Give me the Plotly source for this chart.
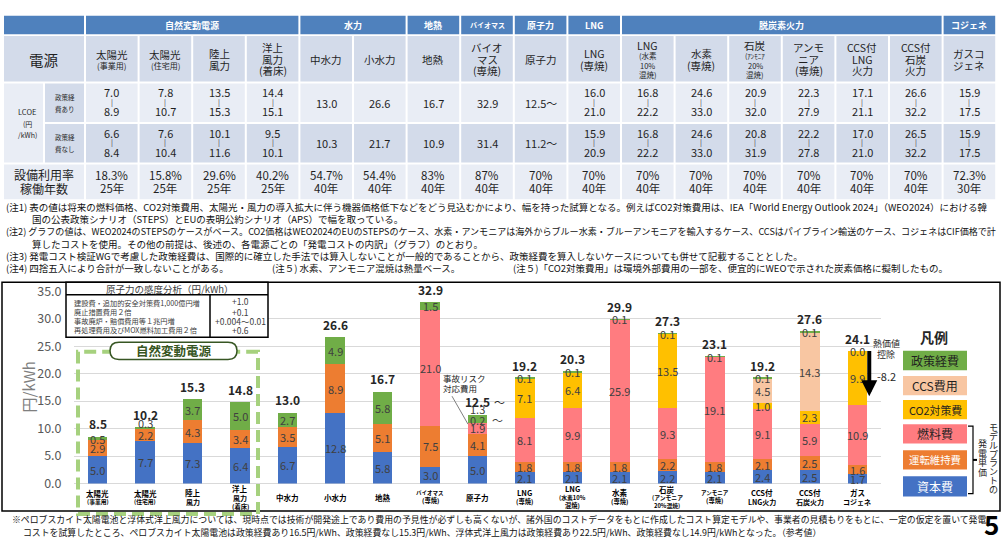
import plotly.graph_objects as go

W, H = 1002, 549
FONT = "Noto Sans CJK JP"


def X(p):
    return p / W


def Y(p):
    return 1 - p / H


# ======================= DATA =======================
categories = ["太陽光(事業用)", "太陽光(住宅用)", "陸上風力", "洋上風力(着床)", "中水力", "小水力",
              "地熱", "バイオマス(専焼)", "原子力", "LNG(専焼)", "LNG(水素10%混焼)", "水素(専焼)",
              "石炭(アンモニア20%混焼)", "アンモニア(専焼)", "CCS付LNG火力", "CCS付石炭火力", "ガスコジェネ"]
category_lines = [["太陽光", "(事業用)"], ["太陽光", "(住宅用)"], ["陸上", "風力"], ["洋上", "風力", "(着床)"],
                  ["中水力"], ["小水力"], ["地熱"], ["バイオマス", "(専焼)"], ["原子力"], ["LNG", "(専焼)"],
                  ["LNG", "(水素10%", "混焼)"], ["水素", "(専焼)"], ["石炭", "(アンモニア", "20%混焼)"],
                  ["アンモニア", "(専焼)"], ["CCS付", "LNG火力"], ["CCS付", "石炭火力"], ["ガス", "コジェネ"]]

capital = [5.0, 7.7, 7.3, 6.4, 6.7, 12.8, 5.8, 3.0, 5.0, 2.1, 2.1, 2.1, 2.2, 2.1, 2.4, 2.5, 1.7]
om_cost = [2.9, 2.2, 4.3, 3.4, 3.5, 8.9, 5.1, 7.5, 4.1, 1.8, 1.8, 1.8, 2.2, 1.8, 2.1, 2.5, 1.6]
fuel = [None, None, None, None, None, None, None, 21.0, 1.9, 8.1, 9.9, 25.9, 9.3, 19.1, 9.1, 5.9, 10.9]
accident_risk = [None, None, None, None, None, None, None, None, 0.2, None, None, None, None, None, None, None, None]
co2_cost = [None, None, None, None, None, None, None, None, None, 7.1, 6.4, None, 13.5, None, 1.0, 2.3, 9.9]
ccs_cost = [None, None, None, None, None, None, None, None, None, None, None, None, None, None, 4.5, 14.3, None]
policy = [0.5, 0.3, 3.7, 5.0, 2.7, 4.9, 5.8, 1.5, 1.3, 0.1, 0.1, 0.1, 0.1, 0.1, 0.1, 0.1, 0.0]
totals = [8.5, 10.2, 15.3, 14.8, 13.0, 26.6, 16.7, 32.9, 12.5, 19.2, 20.3, 29.9, 27.3, 23.1, 19.2, 27.6, 24.1]
heat_deduction = -8.2

y_ticks = [0, 5, 10, 15, 20, 25, 30, 35]

# table
table_groups = [("自然変動電源", 4), ("水力", 2), ("地熱", 1), ("バイオマス", 1), ("原子力", 1),
                ("LNG", 1), ("脱炭素火力", 6), ("コジェネ", 1)]
table_sources = [["太陽光", "(事業用)"], ["太陽光", "(住宅用)"], ["陸上", "風力"], ["洋上", "風力", "(着床)"],
                 ["中水力"], ["小水力"], ["地熱"], ["バイオ", "マス", "(専焼)"], ["原子力"], ["LNG", "(専焼)"],
                 ["LNG", "(水素", "10%", "混焼)"], ["水素", "(専焼)"], ["石炭", "(ｱﾝﾓﾆｱ", "20%", "混焼)"],
                 ["アンモ", "ニア", "(専焼)"], ["CCS付", "LNG", "火力"], ["CCS付", "石炭", "火力"], ["ガスコ", "ジェネ"]]
lcoe_with_policy = [("7.0", "8.9"), ("7.8", "10.7"), ("13.5", "15.3"), ("14.4", "15.1"), ("13.0",), ("26.6",),
                    ("16.7",), ("32.9",), ("12.5～",), ("16.0", "21.0"), ("16.8", "22.2"), ("24.6", "33.0"),
                    ("20.9", "32.0"), ("22.3", "27.9"), ("17.1", "21.1"), ("26.6", "32.2"), ("15.9", "17.5")]
lcoe_without_policy = [("6.6", "8.4"), ("7.6", "10.4"), ("10.1", "11.6"), ("9.5", "10.1"), ("10.3",), ("21.7",),
                       ("10.9",), ("31.4",), ("11.2～",), ("15.9", "20.9"), ("16.8", "22.2"), ("24.6", "33.0"),
                       ("20.8", "31.9"), ("22.2", "27.8"), ("17.0", "21.0"), ("26.5", "32.2"), ("15.9", "17.5")]
capacity_factor = ["18.3%", "15.8%", "29.6%", "40.2%", "54.7%", "54.4%", "83%", "87%", "70%", "70%", "70%",
                   "70%", "70%", "70%", "70%", "70%", "72.3%"]
lifetime = ["25年", "25年", "25年", "25年", "40年", "40年", "40年", "40年", "40年", "40年", "40年", "40年",
            "40年", "40年", "40年", "40年", "30年"]

sensitivity_rows = [("建設費・追加的安全対策費1,000億円増", "+1.0"), ("廃止措置費用２倍", "+0.1"),
                    ("事故廃炉・賠償費用等１兆円増", "+0.004～0.01"), ("再処理費用及びMOX燃料加工費用２倍", "+0.6")]

notes = [
    ("(注1) 表の値は将来の燃料価格、CO2対策費用、太陽光・風力の導入拡大に伴う機器価格低下などをどう見込むかにより、幅を持った試算となる。例えばCO2対策費用は、IEA「World Energy Outlook 2024」（WEO2024）における韓", 0),
    ("国の公表政策シナリオ（STEPS）とEUの表明公約シナリオ（APS）で幅を取っている。", 1),
    ("(注2) グラフの値は、WEO2024のSTEPSのケースがベース。CO2価格はWEO2024のEUのSTEPSのケース、水素・アンモニアは海外からブルー水素・ブルーアンモニアを輸入するケース、CCSはパイプライン輸送のケース、コジェネはCIF価格で計", 0),
    ("算したコストを使用。その他の前提は、後述の、各電源ごとの「発電コストの内訳」（グラフ）のとおり。", 1),
    ("(注3) 発電コスト検証WGで考慮した政策経費は、国際的に確立した手法では算入しないことが一般的であることから、政策経費を算入しないケースについても併せて記載することとした。", 0),
]
note4_parts = ["(注4) 四捨五入により合計が一致しないことがある。", "(注５) 水素、アンモニア混焼は熱量ベース。",
               "(注５)「CO2対策費用」は環境外部費用の一部を、便宜的にWEOで示された炭素価格に擬制したもの。"]
footnotes = ["※ペロブスカイト太陽電池と浮体式洋上風力については、現時点では技術が開発途上であり費用の予見性が必ずしも高くないが、諸外国のコストデータをもとに作成したコスト算定モデルや、事業者の見積もりをもとに、一定の仮定を置いて発電",
             "コストを試算したところ、ペロブスカイト太陽電池は政策経費あり16.5円/kWh、政策経費なし15.3円/kWh、浮体式洋上風力は政策経費あり22.5円/kWh、政策経費なし14.9円/kWhとなった。（参考値）"]

# ======================= STYLE =======================
C_CAP, C_OM, C_FUEL, C_CO2, C_CCS, C_POL = "#4472c4", "#ed7d31", "#ff7c80", "#ffc000", "#f8c6a2", "#70ad47"
series = [("資本費", capital, C_CAP), ("運転維持費", om_cost, C_OM), ("燃料費", fuel, C_FUEL),
          ("事故リスク対応費用", accident_risk, C_POL), ("CO2対策費", co2_cost, C_CO2),
          ("CCS費用", ccs_cost, C_CCS), ("政策経費", policy, C_POL)]
legend_items = [("政策経費", C_POL, "#1f1f1f"), ("CCS費用", C_CCS, "#1f1f1f"), ("CO2対策費", C_CO2, "#1f1f1f"),
                ("燃料費", C_FUEL, "#1f1f1f"), ("運転維持費", C_OM, "#ffffff"), ("資本費", C_CAP, "#ffffff")]

PL, PR, PT, PB = 74, 881, 290.2, 489.5
PXU = (PB - PT) / 35.0

shapes, anns = [], []


def text(x, y, s, size, color="#1f1f1f", bold=False, xanchor="center", yanchor="middle", **kw):
    if bold:
        s = "<b>" + s + "</b>"
    anns.append(dict(x=X(x), y=Y(y), xref="paper", yref="paper", text=s, showarrow=False,
                     font=dict(family=FONT, size=size, color=color), xanchor=xanchor, yanchor=yanchor, **kw))


def rect(x0, y0, x1, y1, fill, lc="rgba(0,0,0,0)", lw=0, dash=None):
    ln = dict(color=lc, width=lw)
    if dash:
        ln["dash"] = dash
    shapes.append(dict(type="rect", xref="paper", yref="paper", x0=X(x0), x1=X(x1), y0=Y(y1), y1=Y(y0),
                       fillcolor=fill, line=ln, layer="above"))


def line(x0, y0, x1, y1, color="#000000", lw=1):
    shapes.append(dict(type="line", xref="paper", yref="paper", x0=X(x0), x1=X(x1), y0=Y(y0), y1=Y(y1),
                       line=dict(color=color, width=lw), layer="above"))


def em(s):
    return sum(0.6 if ord(c) < 128 else 1.0 for c in s)


# ======================= TABLE =======================
HDR, MID, LIGHT = "#4f81bd", "#d3dbea", "#e9edf5"
TX0, TW = 86, 53.6
R1, R2, R3, R4, R5 = (5, 24), (26, 73), (75, 115), (117, 157), (159, 195)


def colx(i):
    return TX0 + i * TW, TX0 + i * TW + TW - 2


def colc(i):
    a, b = colx(i)
    return (a + b) / 2


rect(4, R1[0], 84, R1[1], HDR)
ci = 0
for name, span in table_groups:
    a = colx(ci)[0]
    b = colx(ci + span - 1)[1]
    rect(a, R1[0], b, R1[1], HDR)
    text((a + b) / 2, 15, name, 7 if len(name) >= 5 and span == 1 else 9, "#ffffff", bold=True)
    ci += span

rect(4, R2[0], 84, R2[1], MID)
text(44, 50, "電源", 14.5)
rect(4, R3[0], 43, R4[1], LIGHT)
text(27, 104, "LCOE", 7.5)
text(27, 117, "(円", 7)
text(27, 128, "/kWh)", 7)
rect(45, R3[0], 84, R3[1], MID)
text(65, 89, "政策経", 6.5)
text(65, 101, "費あり", 6.5)
rect(45, R4[0], 84, R4[1], MID)
text(65, 131, "政策経", 6.5)
text(65, 143, "費なし", 6.5)
rect(4, R5[0], 84, R5[1], LIGHT)
text(44, 169, "設備利用率", 12)
text(44, 183.5, "稼働年数", 12)

for i in range(len(table_sources)):
    a, b = colx(i)
    c = colc(i)
    rect(a, R2[0], b, R2[1], MID)
    rect(a, R3[0], b, R3[1], LIGHT)
    rect(a, R4[0], b, R4[1], MID)
    rect(a, R5[0], b, R5[1], LIGHT)
    lines = table_sources[i]
    sizes = []
    for k, ln in enumerate(lines):
        if k == 0:
            sizes.append(10.5)
        elif len(lines) == 4:
            sizes.append(7 if "ｱ" in ln else 7.5)
        elif lines[0] == "太陽光":
            sizes.append(8)
        else:
            sizes.append(10.5)
    steps = [12 if s >= 10 else 9.5 for s in sizes]
    tot = sum(steps)
    y = 50 - tot / 2
    for ln, s, st in zip(lines, sizes, steps):
        text(c, y + st / 2, ln, s)
        y += st
    for vals, (ya, ym, yb, ys) in ((lcoe_with_policy[i], (84, 94, 104, 95)),
                                   (lcoe_without_policy[i], (126, 136, 146, 137))):
        if len(vals) == 2:
            text(c, ya, vals[0], 11)
            text(c, ym, "|", 7)
            text(c, yb, vals[1], 11)
        else:
            text(c, ys, vals[0], 11)
    text(c, 169.5, capacity_factor[i], 11.5)
    text(c, 183.5, lifetime[i], 11.5)

# ======================= NOTES =======================
note_sizes = [9.5, 9.5, 9.05, 9.5, 9.5]
ny = 203
for (s, indent), fs in zip(notes, note_sizes):
    text(4 if indent == 0 else 30, ny, s, fs, "#111111", xanchor="left")
    ny += 12.7
for s, xx in zip(note4_parts, (4, 270, 511)):
    text(xx, ny, s, 9.5, "#111111", xanchor="left")

text(10, 527, footnotes[0], 8.9, "#111111", xanchor="left")
text(21, 540, footnotes[1], 8.9, "#111111", xanchor="left")
text(991, 531, "5", 26, "#000000", bold=True)

# ======================= CHART =======================
fig = go.Figure()
cum = [0.0] * len(categories)
label_shift = {("政策経費", "原子力"): 9, ("事故リスク対応費用", "原子力"): 3, ("政策経費", "太陽光(住宅用)"): 5}
for name, vals, col in series:
    fig.add_trace(go.Bar(x=categories, y=vals, name=name, marker=dict(color=col, line=dict(width=0)),
                         width=0.41, showlegend=False, hoverinfo="x+y+name"))
    for i, v in enumerate(vals):
        if v is None:
            continue
        mid = cum[i] + v / 2
        cum[i] += v
        anns.append(dict(x=categories[i], y=mid, xref="x", yref="y", text=f"{v:.1f}", showarrow=False,
                         font=dict(family=FONT, size=11, color="#404040"),
                         yshift=label_shift.get((name, categories[i]), 0)))
        if name == "事故リスク対応費用":
            anns.append(dict(x=categories[i], y=mid, xref="x", yref="y", text="～", showarrow=False,
                             font=dict(family=FONT, size=11, color="#404040"), xshift=20, yshift=3))

for i, t in enumerate(totals):
    anns.append(dict(x=categories[i], y=t, xref="x", yref="y", text=f"<b>{t:.1f}</b>", showarrow=False,
                     font=dict(family=FONT, size=12, color="#262626"), yshift=13))
    if categories[i] == "原子力":
        anns.append(dict(x=categories[i], y=t, xref="x", yref="y", text="～", showarrow=False,
                         font=dict(family=FONT, size=11, color="#262626"), yshift=13, xshift=22))

# category labels
for i, lines in enumerate(category_lines):
    sizes = []
    for k, ln in enumerate(lines):
        if k == 0:
            sizes.append(5.5 if len(ln) >= 5 else 7.5)
        elif "(" in ln or ")" in ln:
            sizes.append(5.8 if len(ln) >= 5 else 6.3)
        else:
            sizes.append(7)
    steps = [s + 2.5 for s in sizes]
    y = 503.5 - sum(steps) / 2
    for ln, s, st in zip(lines, sizes, steps):
        anns.append(dict(x=categories[i], y=Y(y + st / 2), xref="x", yref="paper", text="<b>" + ln + "</b>",
                         showarrow=False, font=dict(family=FONT, size=s, color="#000000"), yanchor="middle"))
        y += st

# heat value deduction arrow
gas = categories[-1]
gas_total = totals[-1]
anns.append(dict(x=gas, y=gas_total + heat_deduction, xref="x", yref="y", text="", showarrow=True,
                 ax=0, ay=heat_deduction * PXU, axref="pixel", ayref="pixel", arrowhead=2, arrowsize=0.8,
                 arrowwidth=4, arrowcolor="#000000", xshift=12, standoff=0, startstandoff=0))
text(886, 344, "熱価値", 9)
text(886, 356, "控除", 9)
text(886, 378, f"{heat_deduction:.1f}", 11, "#262626")

# accident risk callout
text(441, 380, "事故リスク", 8.5, "#262626", xanchor="left")
text(441, 391, "対応費用", 8.5, "#262626", xanchor="left")
line(452, 399, 468, 428, "#7f7f7f", 1)

# chart frame
rect(2, 281, 1000, 518, "rgba(0,0,0,0)", "#000000", 1.5)

# sensitivity box
rect(66, 281, 268, 338, "#ffffff", "#000000", 1.5)
line(66, 294, 268, 294, "#000000", 1.5)
line(210, 294, 210, 338, "#000000", 1.5)
text(170, 287.5, "原子力の感度分析（円/kWh）", 9.5, "#404040")
for k, (lbl, val) in enumerate(sensitivity_rows):
    yy = [302, 311.5, 321, 330.5][k]
    text(72, yy, lbl, 7.2, "#404040", xanchor="left")
    text(240, yy - (2 if k == 0 else 0), val, 8.5, "#404040")

# natural variable source dashed box
rect(78, 353, 258, 521, "rgba(0,0,0,0)", "#a6d17e", 4, dash="12px,6px")
bx0, bx1, by0, by1 = 110, 237, 343, 361
r = (by1 - by0) / 2
path = (f"M {X(bx0 + r)},{Y(by0)} L {X(bx1 - r)},{Y(by0)} Q {X(bx1)},{Y(by0)} {X(bx1)},{Y(by0 + r)} "
        f"Q {X(bx1)},{Y(by1)} {X(bx1 - r)},{Y(by1)} L {X(bx0 + r)},{Y(by1)} Q {X(bx0)},{Y(by1)} {X(bx0)},{Y(by0 + r)} "
        f"Q {X(bx0)},{Y(by0)} {X(bx0 + r)},{Y(by0)} Z")
shapes.append(dict(type="path", xref="paper", yref="paper", path=path, fillcolor="#ffffff",
                   line=dict(color="#375623", width=1.5), layer="above"))
text(173.5, 352, "自然変動電源", 12.5, "#375623", bold=True)

# legend
text(934, 338, "凡例", 14, "#262626", bold=True)
ly = [(352, 372), (378, 398), (403, 423), (428, 448), (455, 475), (482, 503)]
for (name, col, tc), (y0, y1) in zip(legend_items, ly):
    rect(903, y0, 967, y1, col)
    text(935, (y0 + y1) / 2, name, min(12, 52 / em(name)), tc)
shapes.append(dict(type="path", xref="paper", yref="paper",
                   path=f"M {X(968)},{Y(430)} L {X(973)},{Y(430)} L {X(973)},{Y(500)} L {X(968)},{Y(500)}",
                   line=dict(color="#000000", width=1.2), layer="above"))
line(973, 465, 977, 465, "#000000", 2)
for k, ch in enumerate("モデルプラントの"):
    text(993, 431 + k * 9.3, ch, 9, "#262626")
for k, ch in enumerate("発電単価"):
    text(982, 448 + k * 10, ch, 9, "#262626")

# y axis title
text(29, 390, "円/kWh", 15, "#7f7f7f", textangle=-90)

fig.update_layout(
    width=W, height=H, autosize=False, margin=dict(l=0, r=0, t=0, b=0),
    paper_bgcolor="#ffffff", plot_bgcolor="#ffffff", barmode="stack", showlegend=False,
    font=dict(family=FONT),
    xaxis=dict(domain=[X(PL), X(PR)], type="category", range=[-0.5, len(categories) - 0.5],
               showticklabels=False, showgrid=False, zeroline=False, showline=False, ticks=""),
    yaxis=dict(domain=[Y(PB), Y(PT)], range=[0, 35], tickvals=y_ticks, tickformat=".1f",
               showgrid=True, gridcolor="#d9d9d9", gridwidth=1, zeroline=True, zerolinecolor="#d9d9d9",
               zerolinewidth=1, showline=False, ticks="outside", ticklen=9, tickcolor="rgba(0,0,0,0)",
               tickfont=dict(family=FONT, size=12.5, color="#595959")),
    shapes=shapes, annotations=anns,
)
fig.write_html("out.html", config={"displayModeBar": False})
